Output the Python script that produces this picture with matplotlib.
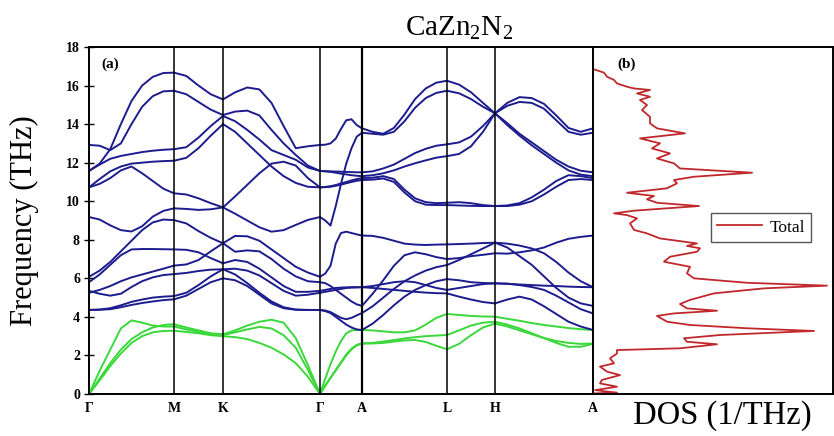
import matplotlib
matplotlib.use("Agg")
import matplotlib.pyplot as plt

plt.rcParams["font.family"] = ["Liberation Serif", "DejaVu Serif"]
plt.rcParams["mathtext.fontset"] = "custom"
plt.rcParams["mathtext.rm"] = "Liberation Serif"

# high-symmetry path (distance along path, arbitrary units)
k_pos = [0, 85, 134, 231, 273, 358, 406, 504]
k_labels = ["Γ", "M", "K", "Γ", "A", "L", "H", "A"]

t9 = [0, 0.125, 0.25, 0.375, 0.5, 0.625, 0.75, 0.875, 1.0]
t5 = [0, 0.25, 0.5, 0.75, 1.0]

# ---- Gamma - M ----
gm_opt = [
    [11.57, 11.95, 12.7, 14.0, 15.2, 16.0, 16.45, 16.65, 16.67],
    [12.92, 12.88, 12.65, 13.0, 14.0, 14.9, 15.45, 15.7, 15.73],
    [11.57, 11.9, 12.2, 12.35, 12.45, 12.55, 12.62, 12.67, 12.7],
    [10.72, 11.15, 11.55, 11.8, 11.95, 12.0, 12.05, 12.08, 12.1],
    [10.72, 10.9, 11.2, 11.6, 11.8, 11.45, 11.05, 10.65, 10.41],
    [9.18, 9.05, 8.75, 8.5, 8.43, 8.7, 9.2, 9.5, 9.63],
    [6.08, 6.4, 6.85, 7.4, 7.95, 8.5, 8.9, 9.05, 9.02],
    [5.8, 6.2, 6.7, 7.2, 7.5, 7.52, 7.52, 7.51, 7.5],
    [5.25, 5.4, 5.6, 5.85, 6.05, 6.2, 6.35, 6.5, 6.66],
    [5.35, 5.2, 5.1, 5.2, 5.55, 5.85, 6.05, 6.17, 6.22],
    [4.36, 4.38, 4.45, 4.6, 4.78, 4.9, 5.0, 5.05, 5.08],
    [4.36, 4.37, 4.4, 4.5, 4.62, 4.72, 4.8, 4.87, 4.91],
]
gm_ac = [
    [0, 1.2, 2.3, 3.4, 3.82, 3.7, 3.55, 3.5, 3.5],
    [0, 0.8, 1.6, 2.3, 2.85, 3.2, 3.45, 3.58, 3.62],
    [0, 0.7, 1.45, 2.1, 2.65, 3.0, 3.2, 3.27, 3.28],
]

# ---- M - K ----
mk_opt = [
    [4.91, 5.1, 5.45, 5.8, 6.0],
    [5.08, 5.25, 5.65, 6.1, 6.47],
    [6.22, 6.28, 6.38, 6.45, 6.47],
    [6.66, 6.72, 6.95, 7.4, 7.82],
    [7.5, 7.48, 7.35, 7.05, 6.78],
    [9.02, 8.85, 8.45, 8.1, 7.82],
    [9.63, 9.6, 9.55, 9.58, 9.68],
    [10.41, 10.35, 10.15, 9.9, 9.68],
    [12.1, 12.25, 12.75, 13.4, 14.0],
    [12.7, 12.8, 13.3, 13.9, 14.42],
    [15.73, 15.55, 15.15, 14.75, 14.47],
    [16.67, 16.5, 16.0, 15.55, 15.28],
]
mk_ac = [
    [3.62, 3.45, 3.3, 3.15, 3.1],
    [3.5, 3.35, 3.22, 3.1, 3.06],
    [3.28, 3.22, 3.15, 3.05, 3.0],
]

# ---- K - Gamma ----
kg_opt = [
    [15.28, 15.65, 15.9, 15.8, 15.1, 13.9, 12.75, 12.85, 12.92],
    [14.47, 14.65, 14.7, 14.45, 13.7, 13.0, 12.4, 11.85, 11.57],
    [14.42, 14.15, 13.7, 13.2, 12.65, 12.4, 12.15, 11.75, 11.57],
    [14.0, 13.6, 13.0, 12.4, 11.8, 11.3, 10.95, 10.75, 10.72],
    [9.68, 10.25, 10.85, 11.45, 11.95, 12.05, 11.85, 11.2, 10.72],
    [9.68, 9.35, 9.0, 8.65, 8.42, 8.5, 8.77, 9.03, 9.18],
    [7.82, 8.2, 8.18, 7.95, 7.5, 7.05, 6.6, 6.3, 6.08],
    [7.82, 7.38, 7.45, 7.4, 7.0, 6.5, 6.1, 5.85, 5.8],
    [6.78, 6.95, 6.85, 6.5, 6.05, 5.6, 5.3, 5.3, 5.35],
    [6.47, 6.5, 6.4, 6.15, 5.75, 5.35, 5.1, 5.15, 5.25],
    [6.47, 6.2, 5.75, 5.25, 4.8, 4.5, 4.38, 4.36, 4.36],
    [6.0, 5.9, 5.6, 5.15, 4.7, 4.45, 4.37, 4.36, 4.36],
]
kg_ac = [
    [3.1, 3.3, 3.55, 3.75, 3.85, 3.7, 2.9, 1.5, 0],
    [3.06, 3.2, 3.35, 3.48, 3.4, 3.05, 2.4, 1.25, 0],
    [3.0, 2.95, 2.85, 2.65, 2.4, 2.05, 1.6, 0.9, 0],
]

# ---- Gamma - A ----
ga_opt = [
    [12.92, 12.93, 13.0, 13.25, 13.75, 14.2, 14.25, 13.95, 13.78],
    [9.18, 9.0, 8.74, 9.75, 10.9, 11.95, 12.75, 13.35, 13.55],
    [11.57, 11.56, 11.55, 11.54, 11.53, 11.52, 11.51, 11.5, 11.5],
    [11.57, 11.55, 11.52, 11.48, 11.43, 11.39, 11.35, 11.32, 11.3],
    [10.72, 10.74, 10.78, 10.84, 10.92, 11.0, 11.08, 11.15, 11.2],
    [10.72, 10.73, 10.75, 10.8, 10.86, 10.93, 11.0, 11.06, 11.1],
    [6.08, 6.25, 6.65, 7.8, 8.35, 8.42, 8.35, 8.28, 8.22],
    [5.8, 5.75, 5.6, 5.4, 5.2, 5.0, 4.8, 4.65, 4.57],
    [5.35, 5.4, 5.45, 5.5, 5.52, 5.53, 5.54, 5.54, 5.54],
    [5.25, 5.3, 5.35, 5.4, 5.45, 5.5, 5.52, 5.53, 5.54],
    [4.36, 4.33, 4.25, 4.1, 3.95, 3.88, 3.95, 4.08, 4.2],
    [4.36, 4.3, 4.2, 4.0, 3.8, 3.6, 3.45, 3.35, 3.32],
]
ga_ac = [
    [0, 0.8, 1.55, 2.2, 2.75, 3.15, 3.3, 3.32, 3.32],
    [0, 0.45, 0.85, 1.25, 1.65, 2.05, 2.35, 2.55, 2.62],
    [0, 0.42, 0.82, 1.22, 1.62, 2.0, 2.32, 2.52, 2.62],
]

# ---- A - L ----
al_opt = [
    [13.78, 13.6, 13.5, 13.8, 14.5, 15.3, 15.85, 16.15, 16.25],
    [13.55, 13.5, 13.45, 13.6, 14.15, 14.85, 15.35, 15.62, 15.73],
    [11.5, 11.55, 11.7, 11.9, 12.2, 12.5, 12.72, 12.88, 12.95],
    [11.3, 11.35, 11.45, 11.6, 11.8, 11.97, 12.12, 12.26, 12.34],
    [11.2, 11.22, 11.3, 11.15, 10.6, 10.15, 9.95, 9.9, 9.92],
    [11.1, 11.12, 11.18, 11.0, 10.45, 10.0, 9.82, 9.8, 9.8],
    [8.22, 8.2, 8.1, 7.95, 7.8, 7.75, 7.73, 7.75, 7.76],
    [4.57, 5.2, 5.9, 6.65, 7.2, 7.35, 7.25, 7.1, 7.0],
    [4.2, 4.55, 5.0, 5.45, 5.85, 6.15, 6.4, 6.58, 6.69],
    [3.32, 3.65, 4.1, 4.6, 5.05, 5.4, 5.65, 5.85, 5.96],
    [5.54, 5.6, 5.7, 5.8, 5.85, 5.8, 5.65, 5.5, 5.4],
    [5.54, 5.5, 5.45, 5.4, 5.35, 5.3, 5.26, 5.23, 5.22],
]
al_ac = [
    [3.32, 3.3, 3.25, 3.2, 3.2, 3.3, 3.6, 3.95, 4.15],
    [2.62, 2.65, 2.72, 2.8, 2.88, 2.95, 3.0, 3.03, 3.06],
    [2.62, 2.62, 2.65, 2.72, 2.78, 2.8, 2.7, 2.5, 2.32],
]

# ---- L - H ----
lh_opt = [
    [16.25, 16.05, 15.65, 15.1, 14.56],
    [15.73, 15.6, 15.3, 14.9, 14.56],
    [12.95, 13.05, 13.35, 13.9, 14.56],
    [12.34, 12.45, 12.85, 13.6, 14.56],
    [9.92, 9.95, 9.9, 9.8, 9.75],
    [9.8, 9.78, 9.76, 9.75, 9.75],
    [7.76, 7.78, 7.8, 7.83, 7.85],
    [6.69, 6.95, 7.25, 7.55, 7.85],
    [7.0, 7.05, 7.15, 7.22, 7.3],
    [5.96, 5.9, 5.8, 5.76, 5.74],
    [5.4, 5.5, 5.6, 5.7, 5.74],
    [5.22, 5.05, 4.9, 4.77, 4.7],
]
lh_ac = [
    [4.15, 4.1, 4.05, 4.02, 4.01],
    [3.06, 3.3, 3.55, 3.7, 3.75],
    [2.32, 2.6, 3.05, 3.45, 3.65],
]

# ---- H - A ----
ha_opt = [
    [14.56, 15.1, 15.4, 15.35, 15.05, 14.45, 13.8, 13.6, 13.78],
    [14.56, 14.95, 15.15, 15.1, 14.8, 14.2, 13.6, 13.45, 13.55],
    [14.56, 14.05, 13.5, 13.05, 12.6, 12.15, 11.8, 11.58, 11.5],
    [14.56, 13.95, 13.4, 12.9, 12.45, 12.0, 11.6, 11.38, 11.3],
    [9.75, 9.78, 9.9, 10.2, 10.6, 11.05, 11.35, 11.3, 11.2],
    [9.75, 9.75, 9.82, 10.0, 10.35, 10.75, 11.1, 11.15, 11.1],
    [7.85, 7.8, 7.7, 7.55, 7.3, 6.85, 6.3, 5.85, 5.54],
    [7.85, 7.6, 7.15, 6.7, 6.1, 5.5, 5.0, 4.7, 4.57],
    [7.3, 7.28, 7.35, 7.45, 7.6, 7.85, 8.05, 8.15, 8.22],
    [5.74, 5.72, 5.68, 5.65, 5.62, 5.6, 5.57, 5.55, 5.54],
    [5.74, 5.72, 5.65, 5.55, 5.4, 5.1, 4.75, 4.4, 4.18],
    [4.7, 4.9, 5.05, 4.9, 4.55, 4.15, 3.75, 3.5, 3.32],
]
ha_ac = [
    [4.01, 3.9, 3.8, 3.68, 3.58, 3.5, 3.42, 3.36, 3.32],
    [3.75, 3.6, 3.4, 3.15, 2.9, 2.65, 2.45, 2.45, 2.6],
    [3.65, 3.5, 3.3, 3.1, 2.9, 2.75, 2.65, 2.6, 2.62],
]

segments = [
    (0, t9, gm_opt, gm_ac),
    (1, t5, mk_opt, mk_ac),
    (2, t9, kg_opt, kg_ac),
    (3, t9, ga_opt, ga_ac),
    (4, t9, al_opt, al_ac),
    (5, t5, lh_opt, lh_ac),
    (6, t9, ha_opt, ha_ac),
]

# ---- total phonon DOS (frequency in THz, DOS in arb. units) ----
dos_freq = [0.03, 0.07, 0.2, 0.38, 0.55, 0.73, 0.98, 1.16, 1.42, 1.59, 1.85, 2.1,
            2.28, 2.37, 2.58, 2.71, 2.89, 3.06, 3.27, 3.41, 3.58, 3.75, 4.05, 4.18,
            4.32, 4.44, 4.67, 4.88, 5.22, 5.48, 5.62, 5.77, 6.0, 6.26, 6.6, 6.86,
            7.12, 7.38, 7.56, 7.68, 7.81, 8.07, 8.33, 8.51, 8.85, 9.11, 9.28, 9.37,
            9.51, 9.75, 9.92, 10.1, 10.27, 10.44, 10.67, 10.93, 11.1, 11.27, 11.48,
            11.7, 11.96, 12.22, 12.48, 12.74, 13.0, 13.26, 13.52, 13.78, 14.04,
            14.38, 14.73, 14.99, 15.25, 15.42, 15.59, 15.77, 15.85, 15.94, 16.11,
            16.29, 16.46, 16.67, 16.84]
dos_total = [0.01, 0.24, 0.02, 0.24, 0.07, 0.09, 0.27, 0.14, 0.07, 0.21, 0.17, 0.24,
             0.24, 0.87, 1.24, 0.94, 0.91, 1.27, 2.21, 1.54, 0.97, 0.74, 0.64, 0.81,
             1.24, 0.94, 0.87, 0.97, 1.21, 1.71, 2.34, 1.54, 1.01, 0.94, 0.97, 0.71,
             0.77, 1.04, 1.07, 0.94, 1.04, 0.67, 0.54, 0.41, 0.37, 0.44, 0.34, 0.21,
             0.41, 1.06, 0.64, 0.54, 0.61, 0.34, 0.74, 0.84, 0.81, 1.01, 1.59,
             0.87, 0.81, 0.64, 0.77, 0.59, 0.67, 0.47, 0.92, 0.64, 0.57,
             0.57, 0.49, 0.54, 0.47, 0.57, 0.44, 0.57, 0.41, 0.34, 0.24,
             0.21, 0.14, 0.11, 0.01]

BLUE = "#1c1c8e"
GREEN = "#3ad83a"
RED = "#c0282c"

fig = plt.figure(figsize=(8.34, 4.36), dpi=100)
ax = fig.add_axes([89 / 834, 42 / 436, 504 / 834, 347 / 436])
ax2 = fig.add_axes([593 / 834, 42 / 436, 240 / 834, 347 / 436])

for i, t, opt, ac in segments:
    k0, k1 = k_pos[i], k_pos[i + 1]
    xs = [k0 + (k1 - k0) * v for v in t]
    for row in ac:
        ax.plot(xs, row, color=GREEN, lw=1.4, solid_capstyle="round")
    for row in opt:
        ax.plot(xs, row, color=BLUE, lw=1.4, solid_capstyle="round")

for k in k_pos[1:-1]:
    ax.axvline(k, color="k", lw=1.6 if k == 273 else 1.1)

ax.set_xlim(k_pos[0], k_pos[-1])
ax.set_ylim(0, 18)
ax.set_xticks(k_pos)
ax.set_xticklabels(k_labels, fontweight="bold", fontsize=10)
ax.set_yticks(range(0, 19, 2))
ax.set_yticklabels([str(v) for v in range(0, 19, 2)], fontweight="bold", fontsize=10)
ax.tick_params(axis="x", length=0, pad=6)
ax.tick_params(axis="y", direction="inout", length=7, width=1.0, pad=3)
for s in ax.spines.values():
    s.set_linewidth(1.4)
ax.text(0.024, 0.94, "(a)", transform=ax.transAxes, fontsize=11, fontweight="bold")

ax2.plot(dos_total, dos_freq, color=RED, lw=1.3, label="Total")
ax2.set_ylim(0, 18)
ax2.set_xlim(0, 2.4)
ax2.set_xticks([])
ax2.set_yticks([])
for s in ax2.spines.values():
    s.set_linewidth(1.4)
ax2.text(0.1, 0.94, "(b)", transform=ax2.transAxes, fontsize=11, fontweight="bold")
ax2.legend(loc="center", bbox_to_anchor=(0.7, 0.48), fontsize=12.5, frameon=True,
           fancybox=False, edgecolor="#555555", handlelength=2.6, borderpad=0.35,
           handletextpad=0.4, framealpha=1)

fig.text(459 / 834, 1 - 28 / 436, r"CaZn$_2$N$_2$", ha="center", va="center", fontsize=21)
fig.text(24 / 834, 1 - 221 / 436, "Frequency (THz)", rotation=90, ha="center",
         va="center", fontsize=22)
fig.text(722 / 834, 1 - 416 / 436, "DOS (1/THz)", ha="center", va="center", fontsize=23.5)

fig.savefig("out.png", dpi=100)
